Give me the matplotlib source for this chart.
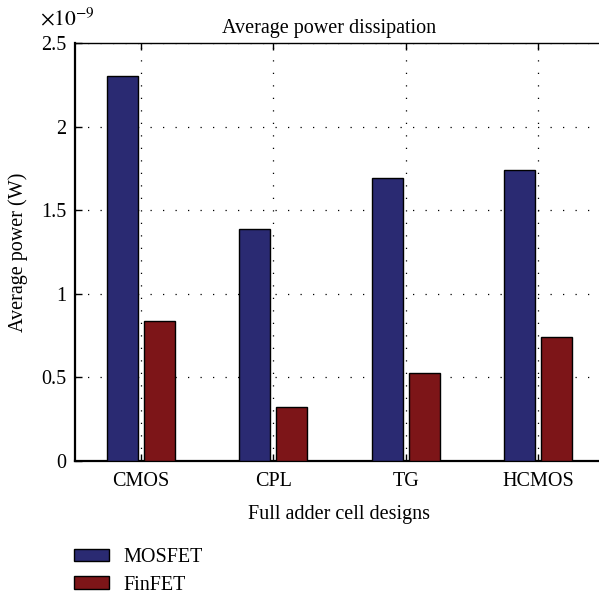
import matplotlib
matplotlib.use('Agg')
import matplotlib.pyplot as plt
import numpy as np

designs = ['CMOS', 'CPL', 'TG', 'HCMOS']
mosfet = [2.30e-9, 1.39e-9, 1.69e-9, 1.74e-9]
finfet = [0.84e-9, 0.32e-9, 0.525e-9, 0.74e-9]
yticks = [0, 0.5e-9, 1e-9, 1.5e-9, 2e-9, 2.5e-9]
ytick_labels = ['0', '0.5', '1', '1.5', '2', '2.5']

plt.rcParams['font.family'] = 'Liberation Serif'
plt.rcParams['font.size'] = 14.5

fig = plt.figure(figsize=(5.99, 5.95), dpi=100)
# axes runs a little past the right edge of the figure
ax = fig.add_axes([75 / 599, 1 - 461 / 595, 529 / 599, 418 / 595])

x = np.arange(1, len(designs) + 1)
off = 0.14
w = 0.235
b1 = ax.bar(x - off, mosfet, w, color='#2a2a72', edgecolor='black', linewidth=1.0, label='MOSFET', zorder=3)
b2 = ax.bar(x + off, finfet, w, color='#7d1518', edgecolor='black', linewidth=1.0, label='FinFET', zorder=3)

ax.set_xlim(0.5, 4.5)
ax.set_ylim(0, 2.5e-9)
ax.set_xticks(x)
ax.set_xticklabels(designs)
ax.set_yticks(yticks)
ax.set_yticklabels(ytick_labels)
ax.tick_params(direction='in', length=5, width=1, top=True, right=False)
ax.tick_params(axis='x', pad=8)
ax.tick_params(axis='y', pad=6)
ax.grid(True, linestyle=(0, (1, 9)), color='black', linewidth=0.9, zorder=0)

for s in ['left', 'bottom']:
    ax.spines[s].set_linewidth(1.6)
ax.spines['top'].set_linewidth(1.0)
ax.spines['right'].set_visible(False)

ax.set_xlabel('Full adder cell designs', labelpad=10)
ax.set_ylabel('Average power (W)', labelpad=10)
ax.text((329 - 75) / 529, 1.012, 'Average power dissipation', transform=ax.transAxes,
        ha='center', va='bottom')
fig.text(40 / 599, 1 - 19 / 595, r'$\times10^{-9}$', ha='left', va='center',
         fontsize=15.5, math_fontfamily='stix')

fig.legend(handles=[b1, b2], labels=['MOSFET', 'FinFET'], loc='upper left',
           bbox_to_anchor=(56 / 599, 1 - 530 / 595), frameon=False,
           handlelength=1.75, handleheight=0.55, handletextpad=0.7, labelspacing=0.42)

fig.savefig('out.png', dpi=100)
